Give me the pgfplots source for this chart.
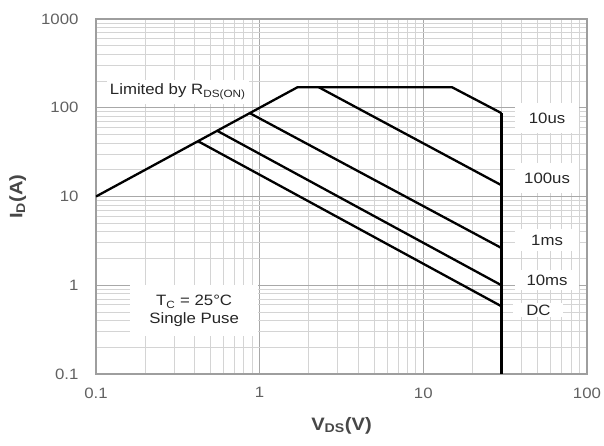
\documentclass[border=0pt]{standalone}
\usepackage{fontspec}
\setmainfont[FakeStretch=1.12]{Liberation Sans}
\usepackage{pgfplots}
\pgfplotsset{compat=1.18}
\begin{document}
\begin{tikzpicture}[x=1pt,y=1pt]
\path[use as bounding box] (-96,-71) rectangle (508,374);
\begin{axis}[
  at={(0,0)}, anchor=south west,
  scale only axis, width=491pt, height=355pt,
  xmode=log, ymode=log,
  xmin=0.1, xmax=100, ymin=0.1, ymax=1000,
  xtick={0.1,1,10,100}, xticklabels={0.1,1,10,100},
  ytick={0.1,1,10,100,1000}, yticklabels={0.1,1,10,100,1000},
  grid=both,
  major tick length=0pt, minor tick length=0pt,
  major grid style={draw=black!34, line width=0.9pt},
  minor grid style={draw=black!17, line width=0.9pt},
  axis line style={draw=black!38, line width=1.6pt},
  ticklabel style={font=\fontsize{15}{17}\selectfont, text=black!62},
  xticklabel style={yshift=-10pt},
  yticklabel style={xshift=-14pt},
  xlabel={\textbf{V\textsubscript{DS}(V)}},
  ylabel={\textbf{I\textsubscript{D}(A)}},
  label style={font=\fontsize{18}{20}\selectfont, text=black!72},
  xlabel style={yshift=-12pt},
  ylabel style={yshift=8pt},
  plotline/.style={black, line width=2.3pt, line join=round, no marks, solid},
]
\addplot[plotline] coordinates {(0.1,10) (1.7,170) (15,170) (30,87)};
\addplot[plotline, line width=3.6pt] coordinates {(30,87) (30,0.1)};
\addplot[plotline] coordinates {(2.3,170) (30,13.4)};
\addplot[plotline] coordinates {(0.87,87) (30,2.63)};
\addplot[plotline] coordinates {(0.55,55) (30,1.0)};
\addplot[plotline] coordinates {(0.42,42) (30,0.58)};

\begin{scope}[every node/.style={fill=white, font=\fontsize{15}{18}\selectfont, text=black!85}]
\node[inner xsep=3pt, inner ysep=4pt] at (axis cs:0.316,151) {Limited by R\textsubscript{DS(ON)}};
\node[minimum width=64pt, minimum height=30pt] at (axis cs:57,76.6) {10us};
\node[minimum width=64pt, minimum height=30pt] at (axis cs:57,16.1) {100us};
\node[minimum width=64pt, minimum height=22pt] at (axis cs:57,3.23) {1ms};
\node[minimum width=64pt, minimum height=20pt] at (axis cs:57,1.15) {10ms};
\node[minimum width=50pt, minimum height=14pt, inner ysep=1pt] at (axis cs:50.5,0.526) {DC};
\node[minimum width=128pt, minimum height=51pt, align=center] at (axis cs:0.398,0.513) {T\textsubscript{C} = 25°C\\Single Puse};
\end{scope}
\end{axis}
\end{tikzpicture}
\end{document}
